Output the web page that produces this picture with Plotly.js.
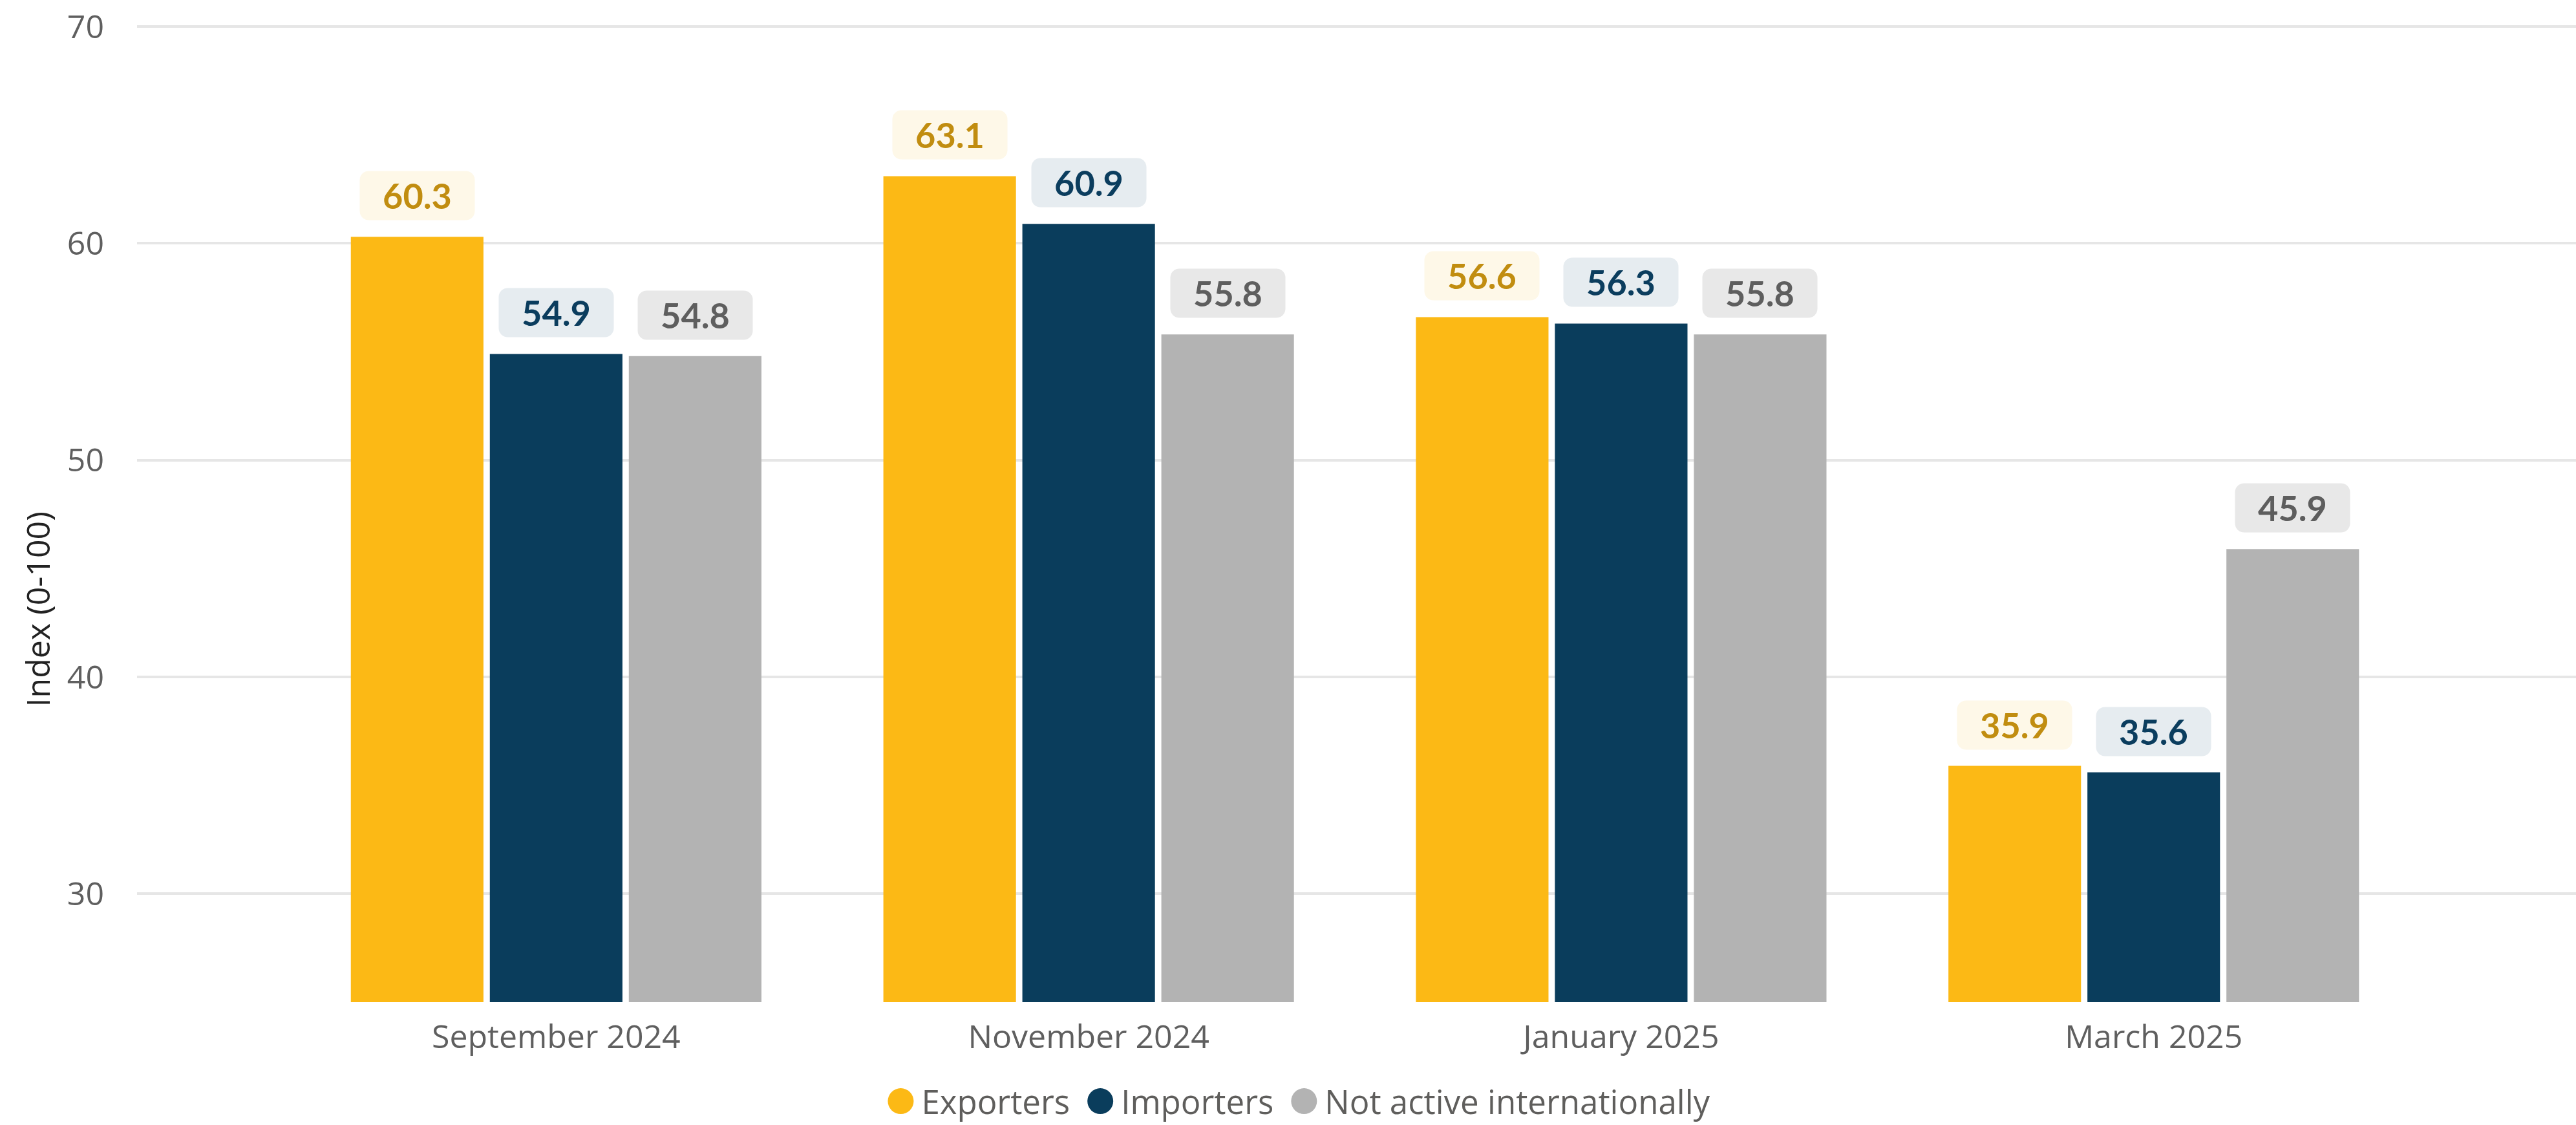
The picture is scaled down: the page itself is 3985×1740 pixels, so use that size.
<!DOCTYPE html>
<html>
<head>
<meta charset="utf-8">
<script src="https://cdn.plot.ly/plotly-3.0.1.min.js"></script>
<style>
  html, body { margin: 0; padding: 0; background: #ffffff; }
  #chart { width: 3985px; height: 1740px; }
</style>
</head>
<body>
<div id="chart"></div>
<script>
// ---- Data ----
const categories = ["September 2024", "November 2024", "January 2025", "March 2025"];
const seriesNames = ["Exporters", "Importers", "Not active internationally"];
const exporters = [60.3, 63.1, 56.6, 35.9];
const importers = [54.9, 60.9, 56.3, 35.6];
const notActive = [54.8, 55.8, 55.8, 45.9];
const yTicks = [30, 40, 50, 60, 70];
const yAxisTitle = "Index (0-100)";

// ---- Styles ----
const barColors = ["#FCB915", "#0A3D5C", "#B3B3B3"];
const labelText = ["#C18D10", "#0B3D5E", "#5E5E5E"];
const labelBg = ["#FEF8E8", "#E6ECF0", "#E8E8E8"];
const seriesValues = [exporters, importers, notActive];
const bargap = 0.217;
const bargroupgap = 0.046;
const slot = (1 - bargap) / 3;

const tickFont = { family: "Open Sans, sans-serif", size: 50, color: "#5F5F5F" };

const traces = [];
seriesValues.forEach((vals, j) => {
  traces.push({
    type: "bar",
    name: seriesNames[j],
    x: categories,
    y: vals,
    marker: { color: barColors[j], line: { width: 0 } },
    showlegend: false,
    hoverinfo: "skip"
  });
});
// legend-only circle entries
seriesNames.forEach((n, j) => {
  traces.push({
    type: "scatter",
    mode: "markers",
    name: n,
    x: [null],
    y: [null],
    marker: { color: barColors[j], size: 16, symbol: "circle" },
    showlegend: true,
    hoverinfo: "skip"
  });
});

const annotations = [];
seriesValues.forEach((vals, j) => {
  vals.forEach((v, i) => {
    annotations.push({
      xref: "x", yref: "y",
      x: i + (j - 1) * slot,
      y: v,
      yanchor: "bottom",
      xanchor: "center",
      yshift: 25,
      showarrow: false,
      text: "<b>" + v.toFixed(1) + "</b>",
      font: { family: "Lato, sans-serif", size: 54, color: labelText[j] },
      bgcolor: labelBg[j],
      borderpad: 0,
      width: 177,
      height: 75,
      valign: "middle",
      align: "center"
    });
  });
});
annotations.push({
  xref: "paper", yref: "paper",
  x: -0.0408, y: 0.40,
  xanchor: "center", yanchor: "middle",
  textangle: -90,
  showarrow: false,
  text: yAxisTitle,
  font: { family: "Open Sans, sans-serif", size: 50, color: "#222222" }
});

const layout = {
  width: 3985,
  height: 1740,
  paper_bgcolor: "#ffffff",
  plot_bgcolor: "#ffffff",
  margin: { l: 212, r: 0, t: 31, b: 190, pad: 0 },
  barmode: "group",
  bargap: bargap,
  bargroupgap: bargroupgap,
  showlegend: true,
  legend: {
    orientation: "h",
    xref: "container", yref: "container",
    x: 0.505, xanchor: "center",
    y: 0.021, yanchor: "middle",
    font: { family: "Open Sans, sans-serif", size: 51, color: "#5F5E5C" },
    itemclick: false, itemdoubleclick: false,
    tracegroupgap: 0
  },
  xaxis: {
    type: "category",
    range: [-0.787, 3.793],
    showgrid: false,
    zeroline: false,
    showline: false,
    ticks: "",
    ticklabelstandoff: 20,
    tickfont: tickFont,
    fixedrange: true
  },
  yaxis: {
    range: [25, 70.3],
    tickvals: yTicks,
    ticktext: yTicks.map(String),
    showgrid: true,
    gridcolor: "#E6E6E6",
    gridwidth: 4,
    zeroline: false,
    showline: false,
    ticks: "",
    ticklabelstandoff: 50,
    tickfont: tickFont,
    fixedrange: true
  },
  annotations: annotations
};

function parseTranslate(t) {
  const m = /translate\(\s*([-\d.e]+)[ ,]+([-\d.e]+)\s*\)/.exec(t || "");
  return m ? [parseFloat(m[1]), parseFloat(m[2])] : [0, 0];
}

Plotly.newPlot("chart", traces, layout, { displayModeBar: false, staticPlot: true }).then(() => {
  document.querySelectorAll(".annotation-text-g rect.bg").forEach(r => {
    r.setAttribute("rx", 14);
    r.setAttribute("ry", 14);
  });
  // remove legend clipping
  document.querySelectorAll(".legend .scrollbox").forEach(s => s.removeAttribute("clip-path"));
  document.querySelectorAll(".legend").forEach(s => s.removeAttribute("clip-path"));
  const items = Array.from(document.querySelectorAll(".legend .traces"));
  const textGap = 12, itemExtra = 22;
  const perItem = textGap + itemExtra;
  const centerOffset = -(perItem * (items.length - 1) + textGap) / 2;
  items.forEach((g, i) => {
    const [x, y] = parseTranslate(g.getAttribute("transform"));
    g.setAttribute("transform", "translate(" + (x + i * perItem + centerOffset) + "," + y + ")");
    const pts = g.querySelectorAll(".legendpoints path");
    pts.forEach(p => p.setAttribute("d", "M20,0A20,20 0 1,1 -20,0A20,20 0 1,1 20,0Z"));
    const txt = g.querySelector("text.legendtext");
    if (txt) {
      const tx = parseFloat(txt.getAttribute("x") || "0");
      txt.setAttribute("x", tx + textGap);
    }
  });
});
</script>
</body>
</html>
